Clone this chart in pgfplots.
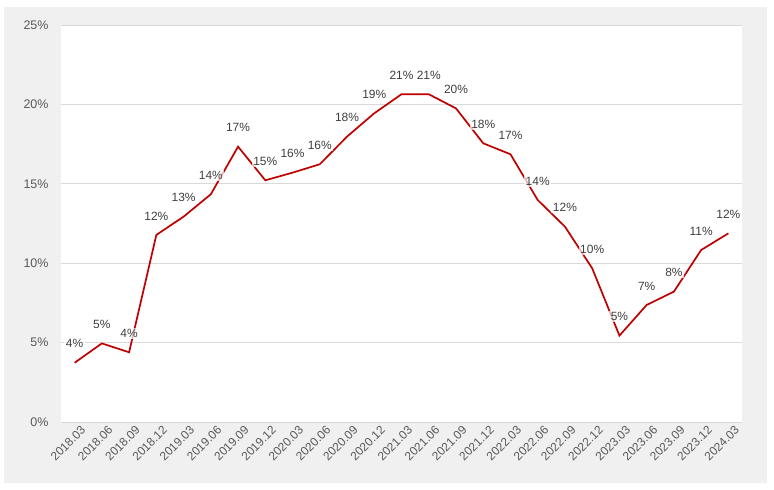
\documentclass[border=0pt]{standalone}
\usepackage{fontspec}
\setmainfont{Liberation Sans}
\usepackage{pgfplots}
\pgfplotsset{compat=1.18}
\usepackage{pgfplotstable}
\definecolor{bggray}{HTML}{F0F0F0}
\definecolor{gridgray}{HTML}{D9D9D9}
\definecolor{linered}{HTML}{C00000}
\definecolor{ticktext}{HTML}{595959}
\definecolor{labeltext}{HTML}{404040}
\pgfplotstableread{
x y
0 3.73
1 4.95
2 4.39
3 11.78
4 12.93
5 14.34
6 17.34
7 15.22
8 15.70
9 16.23
10 17.97
11 19.44
12 20.64
13 20.64
14 19.75
15 17.55
16 16.86
17 13.98
18 12.30
19 9.68
20 5.44
21 7.37
22 8.21
23 10.83
24 11.88
}\datatable
\begin{document}
\begin{tikzpicture}[x=1bp,y=1bp]
\path[use as bounding box, fill=white] (-61,-68) rectangle (713,422);
\fill[bggray] (-57,-61) rectangle (706,415);
\begin{axis}[
  at={(0,0)}, anchor=south west,
  scale only axis, width=681bp, height=397bp,
  xmin=-0.5, xmax=24.5, ymin=0, ymax=25,
  axis background/.style={fill=white},
  axis line style={draw=none},
  ytick={0,5,10,15,20,25},
  yticklabels={0\%,5\%,10\%,15\%,20\%,25\%},
  ymajorgrids, grid style={gridgray, line width=0.8bp},
  major tick length=0pt,
  xtick={0,...,24},
  xticklabels={2018.03,2018.06,2018.09,2018.12,2019.03,2019.06,2019.09,2019.12,2020.03,2020.06,2020.09,2020.12,2021.03,2021.06,2021.09,2021.12,2022.03,2022.06,2022.09,2022.12,2023.03,2023.06,2023.09,2023.12,2024.03},
  xticklabel style={rotate=45, anchor=north east, font=\fontsize{12}{14}\selectfont, text=ticktext, inner sep=1bp, xshift=3bp, yshift=-5bp},
  yticklabel style={font=\fontsize{12.5}{14}\selectfont, text=ticktext, xshift=-9bp},
  clip=false,
  /pgf/number format/assume math mode=true,
  nodes near coords={\pgfmathprintnumber[fixed,precision=0,assume math mode=true]{\pgfplotspointmeta}\%},
  nodes near coords style={font=\fontsize{12}{14}\selectfont, text=labeltext, fill=white, fill opacity=0.7, text opacity=1, anchor=center, yshift=19bp, inner sep=1.5bp},
]
\addplot[linered, line width=1.7bp, mark=none, point meta=explicit] table[x=x, y=y, meta=y] {\datatable};
\end{axis}
\end{tikzpicture}
\end{document}
